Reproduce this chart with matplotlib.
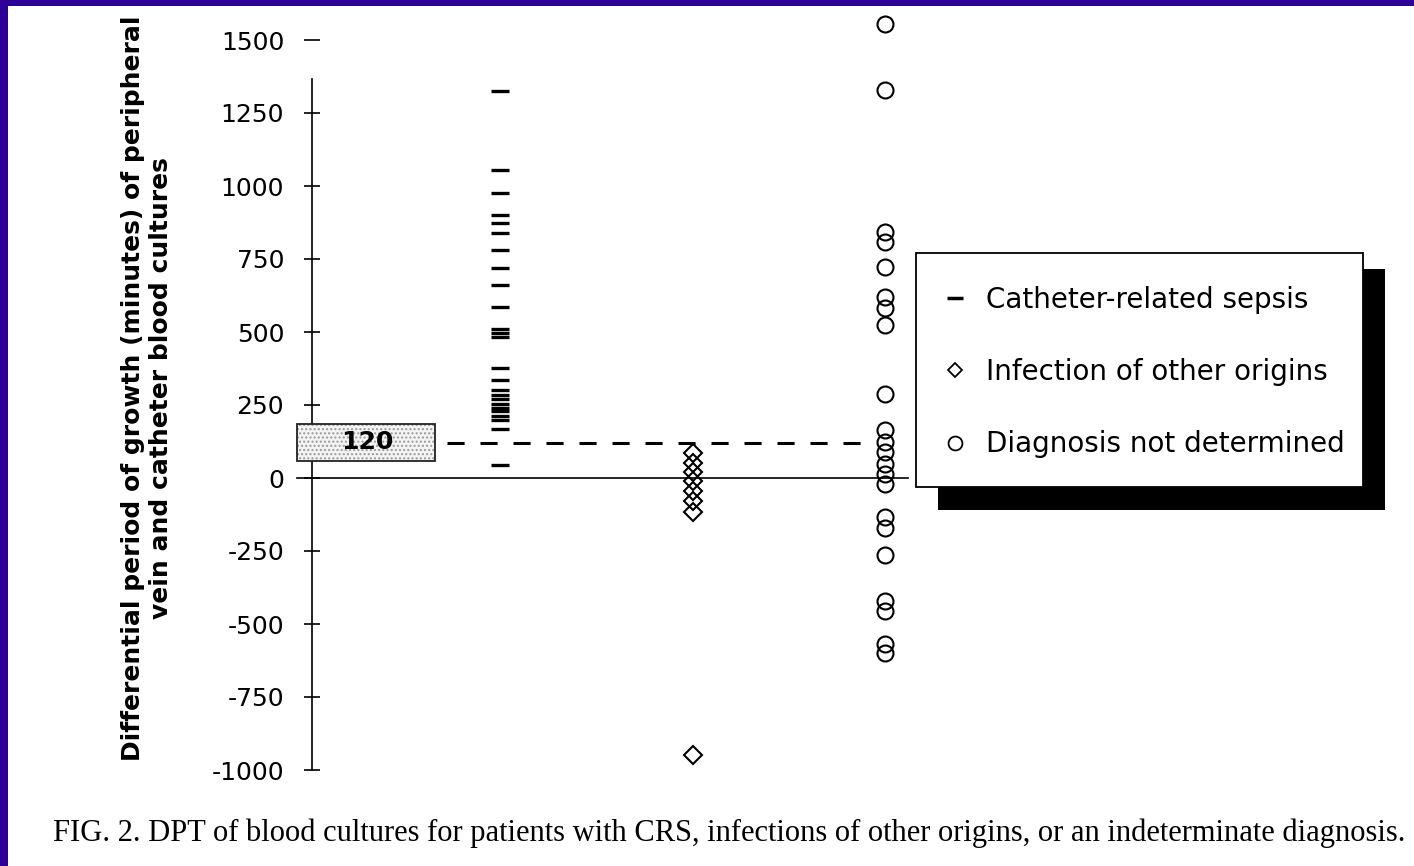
import numpy as np
import matplotlib
matplotlib.use("Agg")
import matplotlib.pyplot as plt
from matplotlib.patches import Rectangle
from matplotlib.lines import Line2D

# ---- data (DPT in minutes) ----
groups = ["Catheter-related sepsis", "Infection of other origins", "Diagnosis not determined"]
crs_dpt = [1325, 1056, 975, 901, 872, 840, 781, 720, 660, 587, 510, 496, 482,
           377, 334, 303, 285, 270, 255, 241, 231, 214, 197, 168, 45]
other_dpt = [85, 50, 20, -10, -45, -80, -115, -950]
undetermined_dpt = [1555, 1328, 842, 808, 723, 621, 581, 523, 286, 163, 122, 88,
                    49, 15, -19, -132, -172, -262, -421, -455, -567, -601]
cutoff = 120
yticks = [1500, 1250, 1000, 750, 500, 250, 0, -250, -500, -750, -1000]
ylabel = ("Differential period of growth (minutes) of peripheral\n"
          "vein and catheter blood cultures")
caption = ("FIG. 2. DPT of blood cultures for patients with CRS, infections of "
           "other origins, or an indeterminate diagnosis.")

W, H, DPI = 1414, 866, 100


def fx(px):
    return px / W


def fy(py):
    return 1 - py / H


fig = plt.figure(figsize=(W / DPI, H / DPI), dpi=DPI, facecolor="white")

# plot area in pixel layout
ax_left, ax_right, ax_top, ax_bottom = 312, 1000, 40, 770
ax = fig.add_axes([fx(ax_left), fy(ax_bottom), (ax_right - ax_left) / W,
                   (ax_bottom - ax_top) / H])
ax.set_facecolor("none")
ax.set_xlim(0.02, 3.60)
ax.set_ylim(-1000, 1500)

for side in ("top", "right", "bottom"):
    ax.spines[side].set_visible(False)
ax.spines["left"].set_linewidth(1.2)
ax.spines["left"].set_bounds(-1000, 1365)
ax.set_xticks([])
ax.set_yticks(yticks)
ax.set_yticklabels([str(v) for v in yticks])
ax.tick_params(axis="y", direction="inout", length=11, width=1.2,
               labelsize=18, pad=14.5, colors="black")

# zero line and 120-minute cutoff
span = ax_right - ax_left
ax.axhline(0, xmin=(297 - ax_left) / span, xmax=(908 - ax_left) / span,
           color="black", lw=1.2, clip_on=False)
ax.axhline(cutoff, xmin=(447 - ax_left) / span, xmax=(862 - ax_left) / span,
           color="black", lw=2.2, dashes=(5.6, 5.2), clip_on=False)

pos = np.arange(1, len(groups) + 1)
ax.plot(np.full(len(crs_dpt), pos[0]), crs_dpt, ls="none", marker="_",
        ms=13, mew=2.4, color="black", clip_on=False)
ax.plot(np.full(len(other_dpt), pos[1]), other_dpt, ls="none", marker="D",
        ms=9.5, mfc="none", mec="black", mew=1.5, clip_on=False)
ax.plot(np.full(len(undetermined_dpt), pos[2]), undetermined_dpt, ls="none",
        marker="o", ms=11.5, mfc="none", mec="black", mew=1.5, clip_on=False)

# cutoff label box
fig.add_artist(Rectangle((fx(297), fy(461)), 138 / W, 37 / H,
                         transform=fig.transFigure, facecolor="#f4f4f4",
                         edgecolor="#9a9a9a", hatch="....", lw=0, zorder=2))
fig.add_artist(Rectangle((fx(297), fy(461)), 138 / W, 37 / H,
                         transform=fig.transFigure, fill=False,
                         edgecolor="#222222", lw=1.3, zorder=3))
fig.text(fx(367), fy(442), str(cutoff), ha="center", va="center",
         fontsize=18, fontweight="bold", zorder=4)

# y-axis title
fig.text(fx(147), fy(388), ylabel, rotation=90, ha="center", va="center",
         fontsize=18, fontweight="bold", linespacing=1.2,
         multialignment="center")

# legend: shadow, frame and entries
fig.add_artist(Rectangle((fx(938), fy(510)), (1385 - 938) / W, (510 - 269) / H,
                         transform=fig.transFigure, facecolor="black",
                         edgecolor="none", zorder=2))
fig.add_artist(Rectangle((fx(916), fy(487)), (1363 - 916) / W, (487 - 253) / H,
                         transform=fig.transFigure, facecolor="white",
                         edgecolor="black", lw=1.3, zorder=3))
handles = [
    Line2D([], [], ls="none", marker="_", ms=12, mew=2.5, color="black"),
    Line2D([], [], ls="none", marker="D", ms=7, mfc="none", mec="black", mew=1.3),
    Line2D([], [], ls="none", marker="o", ms=10, mfc="none", mec="black", mew=1.3),
]
leg = fig.legend(handles, groups, loc="upper left",
                 bbox_to_anchor=(fx(942), fy(286)), frameon=False,
                 fontsize=20, labelspacing=1.59, handlelength=0.9,
                 handletextpad=0.7, borderpad=0, borderaxespad=0)
leg.set_zorder(5)

# caption
fig.text(fx(53), fy(841), caption, ha="left", va="baseline",
         fontsize=22, family="Liberation Serif")

# page border
border = "#2f0097"
fig.add_artist(Rectangle((0, fy(6)), 1, 6 / H, transform=fig.transFigure,
                         facecolor=border, edgecolor="none", zorder=10))
fig.add_artist(Rectangle((0, 0), 8 / W, 1, transform=fig.transFigure,
                         facecolor=border, edgecolor="none", zorder=10))

fig.savefig("out.png", dpi=DPI)
